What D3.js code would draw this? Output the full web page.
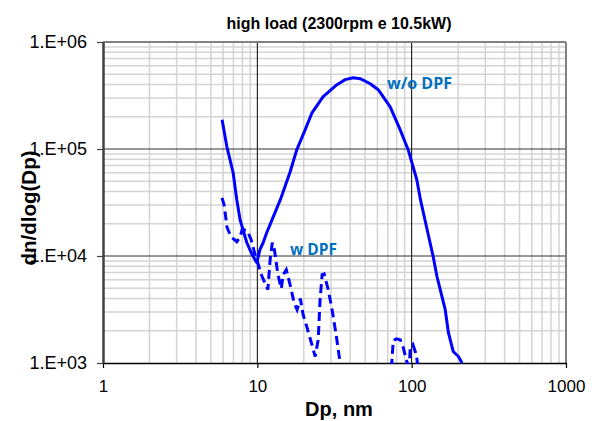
<!DOCTYPE html>
<html>
<head>
<meta charset="utf-8">
<script src="https://cdn.jsdelivr.net/npm/d3@7"></script>
<style>
  body { margin: 0; background: #fff; }
  svg { display: block; }
</style>
</head>
<body>
<svg id="chart" width="594" height="421"></svg>
<script>
// particle size distribution
var woDpfDp = [5.91, 6.34, 6.97, 7.36, 7.73, 8.55, 9.25, 9.93, 10.4, 10.9, 11.5, 12.7, 14.1, 16.3, 18.0, 20.4, 22.6, 26.7, 32.8, 37.1, 41.8, 46.4, 53.9, 60.7, 72.6, 84.3, 95.0, 108, 114, 126, 138, 146, 165, 173, 186, 201, 212];
var woDpfN = [1.88e5, 1.06e5, 6.0e4, 3.36e4, 2.18e4, 1.33e4, 1.03e4, 8.65e3, 1.15e4, 1.33e4, 1.65e4, 2.33e4, 3.36e4, 6.1e4, 9.8e4, 1.51e5, 2.18e5, 3.08e5, 3.99e5, 4.45e5, 4.64e5, 4.54e5, 4.07e5, 3.58e5, 2.48e5, 1.51e5, 9.8e4, 5.16e4, 3.36e4, 1.76e4, 9.8e3, 6.4e3, 3.15e3, 1.92e3, 1.28e3, 1.15e3, 1.0e3];

var wDpfDp = [5.91, 6.09, 6.37, 6.76, 7.36, 7.73, 7.97, 8.59, 9.12, 9.68, 10.1, 10.7, 11.4, 11.7, 12.1, 12.5, 12.9, 13.6, 14.3, 14.7, 15.4, 16.3, 17.3, 18.1, 19.0, 19.8, 21.0, 22.3, 23.7, 24.8, 25.5, 26.3, 27.1, 28.8, 30.5, 32.4, 34.4, 35.0,
  null,
  73.8, 74.3, 76.0, 79.5, 84.3, 88.3, 92.2, 95.0, 96.5, 97.9, 102, 107, 109, 110];
var wDpfN = [3.5e4, 3.0e4, 1.84e4, 1.51e4, 1.36e4, 1.5e4, 1.76e4, 1.73e4, 1.42e4, 1.02e4, 8.5e3, 6.5e3, 5.3e3, 4.84e3, 9.2e3, 1.33e4, 1.15e4, 6.7e3, 4.95e3, 6.7e3, 7.45e3, 5.4e3, 3.66e3, 3.15e3, 4.0e3, 2.83e3, 2.14e3, 1.58e3, 1.15e3, 1.65e3, 3.9e3, 6.7e3, 6.8e3, 4.84e3, 3.15e3, 1.84e3, 1.0e3, 0.9e3,
  null,
  0.9e3, 1.0e3, 1.62e3, 1.68e3, 1.65e3, 1.39e3, 1.07e3, 0.95e3, 0.95e3, 1.37e3, 1.48e3, 1.2e3, 1.0e3, 0.9e3];

var xTicks = [1, 10, 100, 1000];
var yTicks = [1e3, 1e4, 1e5, 1e6];

var svg = d3.select("#chart");
var pLeft = 103, pRight = 566, pTop = 42, pBottom = 363;

var x = d3.scaleLog().domain([1, 1000]).range([pLeft, pRight]);
var y = d3.scaleLog().domain([1e3, 1e6]).range([pBottom, pTop]);

// minor grid
var minorX = [], minorY = [];
[1, 10, 100].forEach(function (d) {
    for (var k = 2; k <= 9; k++) minorX.push(d * k);
});
[1e3, 1e4, 1e5].forEach(function (d) {
    for (var k = 2; k <= 9; k++) minorY.push(d * k);
});

var grid = svg.append("g");
grid.selectAll(".mx").data(minorX).enter().append("line")
    .attr("x1", function (d) { return x(d); })
    .attr("x2", function (d) { return x(d); })
    .attr("y1", pTop).attr("y2", pBottom)
    .attr("stroke", "#d4d4d4").attr("stroke-width", 1.5);
grid.selectAll(".my").data(minorY).enter().append("line")
    .attr("y1", function (d) { return y(d); })
    .attr("y2", function (d) { return y(d); })
    .attr("x1", pLeft).attr("x2", pRight)
    .attr("stroke", "#d4d4d4").attr("stroke-width", 1.5);

// major grid
grid.selectAll(".Mx").data([10, 100]).enter().append("line")
    .attr("x1", function (d) { return x(d); })
    .attr("x2", function (d) { return x(d); })
    .attr("y1", pTop).attr("y2", pBottom)
    .attr("stroke", "#000").attr("stroke-width", 1);
grid.selectAll(".My").data([1e4, 1e5]).enter().append("line")
    .attr("y1", function (d) { return y(d); })
    .attr("y2", function (d) { return y(d); })
    .attr("x1", pLeft).attr("x2", pRight)
    .attr("stroke", "#333").attr("stroke-width", 1.2);

// frame
svg.append("line").attr("x1", pLeft).attr("x2", pRight).attr("y1", pTop).attr("y2", pTop)
    .attr("stroke", "#808080").attr("stroke-width", 2);
svg.append("line").attr("x1", pRight).attr("x2", pRight).attr("y1", pTop).attr("y2", pBottom)
    .attr("stroke", "#808080").attr("stroke-width", 2);

// axes
var xAxis = d3.axisBottom(x).tickValues(xTicks).tickFormat(d3.format("d")).tickSize(5).tickSizeOuter(0);
var yAxis = d3.axisLeft(y).tickValues(yTicks).tickFormat(function (d) {
    return "1.E+0" + Math.round(Math.log10(d));
}).tickSize(6).tickSizeOuter(0);

var gx = svg.append("g").attr("transform", "translate(0," + pBottom + ")").call(xAxis);
gx.select(".domain").attr("stroke", "#000").attr("stroke-width", 1.5);
gx.selectAll(".tick line").attr("stroke", "#000").attr("stroke-width", 1.2);
gx.selectAll("text").attr("font-family", "Liberation Sans, Arial, sans-serif")
    .attr("font-size", 17).attr("fill", "#000").attr("y", 29).attr("dy", 0);

var gy = svg.append("g").attr("transform", "translate(" + pLeft + ",0)").call(yAxis);
gy.select(".domain").attr("stroke", "#404040").attr("stroke-width", 2.5);
gy.selectAll(".tick line").attr("stroke", "#404040").attr("stroke-width", 1.2);
gy.selectAll("text").attr("font-family", "Liberation Sans, Arial, sans-serif")
    .attr("font-size", 18).attr("fill", "#000").attr("x", -16);

// curves
var line = d3.line()
    .defined(function (d) { return d[0] != null; })
    .x(function (d) { return x(d[0]); })
    .y(function (d) { return y(d[1]); });

svg.append("clipPath").attr("id", "clip").append("rect")
    .attr("x", pLeft).attr("y", pTop).attr("width", pRight - pLeft).attr("height", pBottom - pTop + 1);

var curves = svg.append("g").attr("clip-path", "url(#clip)");
curves.append("path")
    .attr("d", line(d3.zip(woDpfDp, woDpfN)))
    .attr("fill", "none").attr("stroke", "#0000ff").attr("stroke-width", 3)
    .attr("stroke-linejoin", "round");
curves.append("path")
    .attr("d", line(d3.zip(wDpfDp, wDpfN)))
    .attr("fill", "none").attr("stroke", "#0000ff").attr("stroke-width", 3)
    .attr("stroke-dasharray", "9,5");

// labels
svg.append("text").attr("x", 339).attr("y", 29).attr("text-anchor", "middle")
    .attr("font-family", "Liberation Sans, Arial, sans-serif").attr("font-weight", "bold")
    .attr("font-size", 16).text("high load (2300rpm e 10.5kW)");

svg.append("text").attr("x", 339).attr("y", 416).attr("text-anchor", "middle")
    .attr("font-family", "Liberation Sans, Arial, sans-serif").attr("font-weight", "bold")
    .attr("font-size", 20).text("Dp, nm");

svg.append("text").attr("transform", "translate(36,208) rotate(-90)").attr("text-anchor", "middle")
    .attr("font-family", "Liberation Sans, Arial, sans-serif").attr("font-weight", "bold")
    .attr("font-size", 20.5).text("dn/dlog(Dp)");

svg.append("text").attr("x", 387).attr("y", 89)
    .attr("font-family", "Open Sans, sans-serif").attr("font-weight", "bold")
    .attr("font-size", 16).attr("fill", "#0070c0").text("w/o DPF");

svg.append("text").attr("x", 290).attr("y", 255)
    .attr("font-family", "Open Sans, sans-serif").attr("font-weight", "bold")
    .attr("font-size", 15.5).attr("fill", "#0070c0").text("w DPF");
</script>
</body>
</html>
